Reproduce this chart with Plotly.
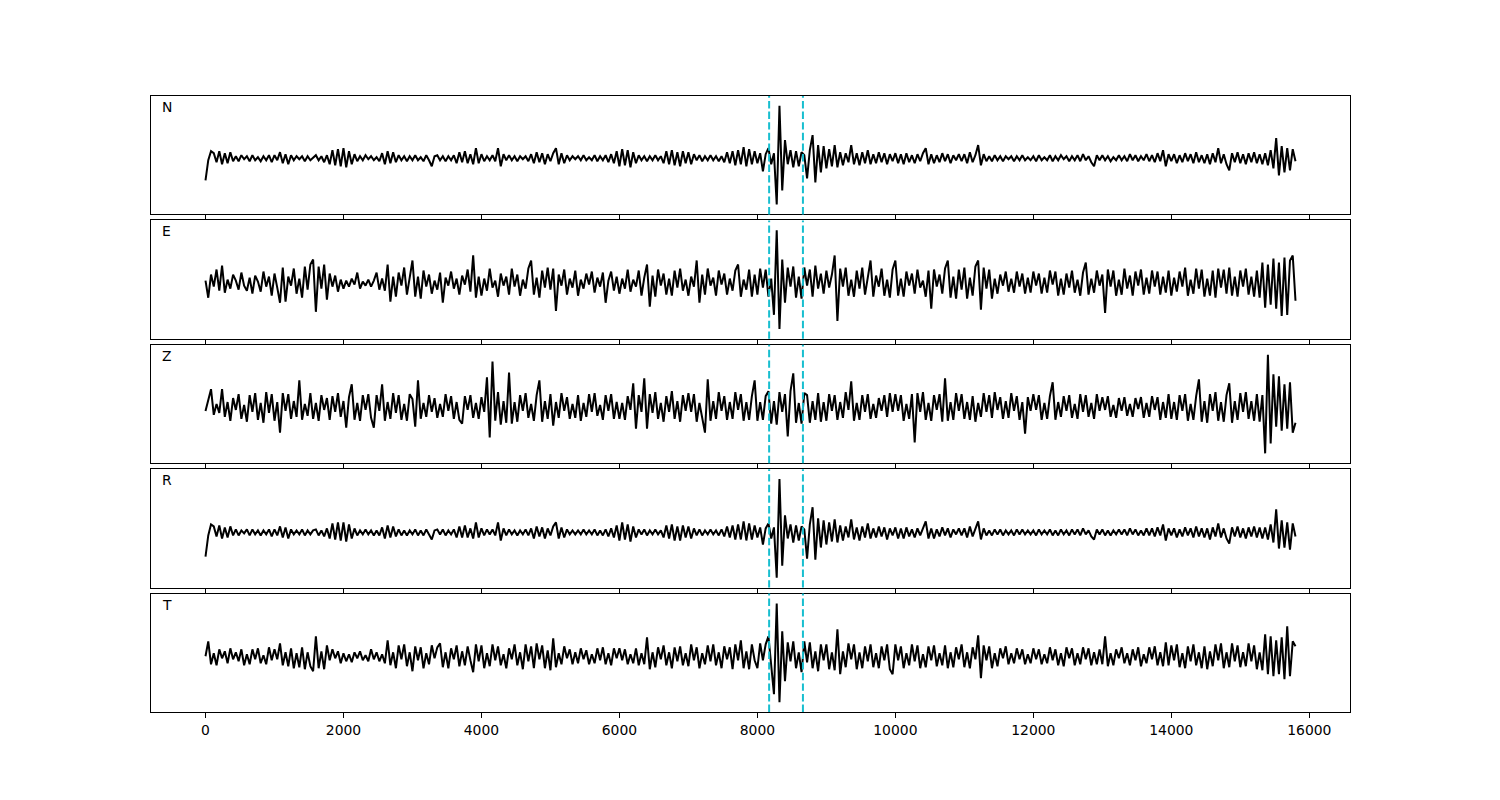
import numpy as np
import plotly.graph_objects as go
from plotly.subplots import make_subplots

# ---------------- data (amplitudes, one list per 1000-sample block, step 40) ----
channels = ["N", "E", "Z", "R", "T"]
pick_times = [8170, 8660]
x_ticks = [0, 2000, 4000, 6000, 8000, 10000, 12000, 14000, 16000]
sample_step = 40
block_len = 1000

wave_N = [
    [-22, -2, 7, 5, -4, 7, -6, 5, -5, 6, -3, 2, -3, 3, -1, 2, -3, 3, -2, 1, -3, 2, -2, 3, -4],
    [3, -2, 6, -5, 4, -6, 3, -2, 2, -1, 2, -3, 2, -2, 1, 3, -2, 2, -4, 3, -6, 8, -7, 9, -8],
    [10, -9, 7, -6, 4, -3, 2, -2, 3, -1, 2, -2, 1, -3, 5, -6, 7, -5, 6, -4, 3, -2, 2, -3, 2],
    [-2, 3, -2, 1, -3, 3, -2, -8, 2, 3, -2, 2, -3, 2, -2, 3, -5, 6, -4, 7, -5, 4, -6, 10, -5],
    [4, -3, 2, -2, 3, -3, 10, -8, 4, -2, 3, -2, 2, -3, 2, -1, 2, -3, 4, -5, 6, -4, 5, -6, 4],
    [-3, 5, 10, -6, 5, -5, 3, -2, 2, -1, 2, -2, 3, -2, 1, -2, 3, -3, 2, -2, 3, -4, 4, -5, 7],
    [-8, 9, -7, 8, -9, 6, -5, 3, -2, 2, -3, 2, -2, 3, -2, 2, -5, 7, -6, 8, -7, 6, -8, 7, -5],
    [6, -6, 4, -2, 3, -3, 2, -2, 3, -2, 2, -3, 2, -4, 6, -5, 7, -7, 8, -6, 11, -8, 9, -6, 7],
    [-5, 5, -13, 4, 10, -6, 5, -46, 52, -32, 18, -6, 8, -9, 7, -8, 6, 3, -20, 8, 23, -24, 13, -14, 12],
    [-10, 9, -8, 13, -9, 6, -7, 5, -4, 13, -6, 5, -7, 6, -5, 8, -6, 4, -5, 6, -4, 5, -6, 4, -3],
    [5, -5, 4, -6, 5, -4, 3, -5, 4, -3, 5, 10, -6, 4, -5, 3, -4, 5, -3, 4, -5, 3, -2, 4, -3],
    [4, -5, 6, -4, 3, 13, -7, 4, -3, 2, -3, 3, -2, 2, -3, 2, -1, 2, -3, 2, -2, 3, -2, 1, -2],
    [2, -3, 3, -2, 1, -2, 3, -3, 2, -2, 3, -1, 2, -3, 2, -2, 3, -3, 4, -2, 2, -4, -8, 3, -2],
    [3, -2, 2, -3, 1, -2, 3, -2, 2, -3, 4, -2, 3, -3, 2, -2, 4, -3, 3, -4, 5, -3, 8, -8, 4],
    [-3, 4, -5, 3, -4, 5, -3, 4, -5, 6, -4, 3, -5, 4, -6, 5, -4, 10, -5, 4, -6, -12, 5, -4, 6],
    [-5, 4, -6, 5, -4, 6, -5, 4, -6, 5, -7, 8, -10, 20, -17, 12, -14, 10, -12, 9, -3],
]

wave_E = [
    [2, -15, 8, -4, 13, -8, 17, -10, 3, -6, 8, 2, -7, 10, -3, -8, 5, -11, 7, 1, -9, 11, -4, 6, -13],
    [9, -5, -20, 15, -19, 6, -3, 14, -11, 4, -15, 16, -7, 18, 23, -29, 16, -6, 18, -17, 9, -4, 7, -9, 3],
    [-6, 2, -4, 4, -2, 10, -6, 1, -3, 3, -4, 2, 10, -7, 4, -8, 18, -19, 6, -14, 10, -3, 15, -12, 5],
    [22, -14, 6, -16, 12, -4, 8, -11, 2, -7, 10, -20, 5, -3, 11, -6, 4, -12, 7, -2, 13, -9, 27, -15, 6],
    [-13, 4, -8, 14, -5, 2, -14, 9, -3, 6, -12, 14, -4, 8, -13, 3, -6, 14, 22, -12, 5, -15, 12, -5, 15],
    [-7, 14, -28, 8, -3, 13, -12, 4, -5, 12, -13, 3, -6, 9, -2, 11, -10, 5, -4, 10, -20, 2, 11, -8, 6],
    [-11, 4, -6, 13, -9, 3, -4, 12, -13, 5, 18, -24, 7, -14, 13, -3, 9, -12, 4, -13, 12, -5, 14, -8, 3],
    [-13, 6, -4, 22, -20, 8, -12, 14, -3, 5, -13, 12, -2, 9, -12, 4, -8, 12, 18, -14, 3, -7, 13, -14, 8],
    [-12, 14, -5, 13, -14, 4, -32, 52, -46, 23, -20, 15, -4, 16, -15, 6, -16, 15, -3, 13, -14, 17, -6, 9, -11],
    [12, -5, 8, 27, -38, 14, -4, 15, -13, 3, -14, 12, -6, 15, -12, 5, 22, -14, 7, -4, 14, -13, 3, -15, 13],
    [22, -13, 4, -14, 11, -3, 9, -11, 13, -5, 2, -14, 12, -26, 13, -4, 8, -11, 14, 22, -15, 6, -16, 13, -7],
    [15, -16, 5, -13, 16, 22, -27, 15, -6, 13, -16, 4, -11, 8, -3, 11, -9, 4, -10, 11, -4, 9, -11, 5, -10],
    [11, -3, 9, -11, 5, -10, 12, -2, 11, -13, 4, -12, 9, -5, 12, -10, 3, -13, 10, 20, -12, 4, -10, 12, -3],
    [8, -30, 13, -4, 12, -13, 3, -12, 14, -6, 7, -13, 11, -3, 13, -12, 5, -11, 12, -4, 11, -12, 6, -10, 12],
    [-13, 5, -9, 11, -4, 15, -13, 3, -11, 14, -6, 13, -14, 4, -13, 12, -15, 14, -5, 13, -11, 15, -13, 6, -14],
    [12, -4, 14, -12, 6, -14, 12, -15, 20, -25, 18, -22, 24, -26, 20, -33, 25, -32, 22, 27, -18],
]

wave_Z = [
    [-4, 6, 18, -8, 3, -6, 18, -10, 5, -14, 9, -3, 13, -12, 2, -15, 12, -5, 14, -13, 4, -16, 15, -6, 13],
    [-14, 5, -26, 14, -4, 13, -12, 6, -10, 27, -13, 3, -9, 14, -12, 4, -14, 12, -3, 9, -13, 11, -5, 14, -10],
    [6, -21, 10, 23, -13, 4, -14, 12, -3, 13, -11, -21, 12, -4, 23, -14, 5, -12, 14, -6, 12, -13, 3, -14, 13],
    [8, -20, 27, -12, 4, -10, 12, -5, 9, -11, 3, -10, 13, -4, 11, -12, 5, -13, -17, 11, -3, 12, -11, 4, -12],
    [10, -5, 30, -31, 46, -14, 15, -18, 6, -16, 35, -17, 5, -15, 12, -4, 14, -11, 3, -14, 12, 27, -15, 6, -12],
    [13, -19, 5, -11, 14, -4, 10, -12, 3, -11, 12, -14, 4, -10, 13, -5, 14, -9, 2, -13, 12, -4, 13, -12, 5],
    [-12, 4, -13, 11, -3, 24, -22, 12, -5, 29, -22, 13, -6, 15, -12, 4, -15, 11, -5, 16, -12, 6, -15, 12, -4],
    [14, -5, 13, -15, 4, -13, -26, 28, -14, 6, -12, 15, -4, 11, -13, 5, -12, 15, -3, 13, -14, 5, -13, 11, 27],
    [-14, 5, -13, 11, 16, -17, 6, -18, 15, -5, 13, -30, 16, 34, -16, 4, -17, 14, 12, -16, 6, -13, 14, -15, 5],
    [-14, 13, -4, 12, -13, 5, -11, 15, -3, 26, -14, 4, -13, 12, -5, 13, -12, 3, -11, 9, -4, 12, -10, 14, -5],
    [13, -4, 12, -14, 3, -12, 13, -36, 14, -5, 15, -13, 4, -14, 12, -3, 13, -15, 29, -14, 5, -13, 14, -4, 13],
    [-12, 5, -13, 11, -15, 4, -10, 14, -5, 12, -11, 15, -3, 10, -12, 6, -11, 14, -4, 11, -13, 5, -27, 10, -4],
    [13, -3, 12, -13, 4, -12, 11, 25, -13, 5, -10, 11, -4, 12, -11, 3, -12, 13, -5, 12, -10, 4, -12, 13, -4],
    [10, -3, 11, -10, 2, -11, 9, -4, 10, -9, 3, -10, 9, -2, 10, -11, 4, -10, 11, -3, 10, -13, 5, -11, 13],
    [-12, 5, -13, 12, -4, 13, -14, 3, -13, 11, 28, -15, 6, -16, 13, -4, 15, -14, 5, -15, 12, 24, -16, 6, -13],
    [14, -5, 15, -12, 6, -14, 13, -15, 12, -47, 53, -37, 33, -20, 31, -24, 23, -22, 25, -26, -16],
]

wave_R = [
    [-24, -3, 8, 6, -4, 7, -6, 5, -5, 6, -3, 3, -3, 2, -1, 3, -3, 3, -2, 2, -3, 2, -2, 3, -4],
    [3, -3, 6, -5, 5, -6, 3, -2, 2, -2, 3, -3, 2, -2, 2, 3, -3, 2, -4, 4, -6, 9, -7, 10, -8],
    [10, -9, 8, -6, 4, -3, 2, -2, 3, -2, 2, -3, 2, -3, 5, -6, 7, -5, 6, -4, 3, -3, 2, -3, 2],
    [-2, 3, -3, 2, -3, 3, -2, -7, 2, 3, -2, 3, -3, 2, -2, 3, -5, 6, -5, 7, -5, 4, -6, 10, -5],
    [4, -3, 3, -2, 3, -3, 10, -8, 4, -3, 3, -2, 2, -3, 2, -2, 3, -3, 4, -6, 6, -4, 5, -6, 4],
    [-3, 6, 10, -6, 5, -5, 3, -2, 2, -2, 2, -2, 3, -2, 2, -2, 3, -3, 2, -3, 3, -4, 4, -5, 7],
    [-8, 10, -7, 8, -9, 6, -5, 3, -2, 3, -3, 2, -2, 3, -2, 2, -5, 7, -6, 8, -8, 6, -8, 7, -5],
    [6, -6, 4, -3, 3, -3, 2, -2, 3, -2, 2, -3, 3, -4, 6, -5, 7, -7, 8, -7, 11, -8, 9, -7, 7],
    [-5, 5, -12, 4, 9, -6, 5, -45, 53, -33, 17, -6, 8, -10, 7, -8, 6, 3, -26, 8, 25, -27, 14, -15, 12],
    [-12, 10, -9, 13, -10, 7, -8, 6, -5, 13, -7, 5, -8, 6, -5, 9, -6, 4, -5, 6, -4, 5, -7, 4, -3],
    [5, -6, 4, -6, 5, -4, 3, -5, 4, -3, 5, 11, -6, 4, -6, 3, -4, 5, -3, 4, -5, 3, -2, 4, -3],
    [4, -5, 6, -4, 3, 11, -7, 4, -3, 2, -3, 3, -2, 3, -3, 2, -2, 2, -3, 3, -2, 3, -2, 2, -2],
    [2, -3, 3, -2, 2, -2, 3, -3, 2, -3, 3, -2, 2, -3, 3, -2, 3, -3, 4, -2, 2, -4, -7, 3, -2],
    [3, -3, 2, -3, 2, -2, 3, -2, 3, -3, 4, -2, 3, -3, 2, -3, 4, -3, 4, -4, 5, -3, 8, -8, 4],
    [-3, 4, -5, 3, -4, 5, -3, 4, -5, 6, -4, 4, -5, 4, -7, 5, -4, 9, -5, 4, -6, -11, 5, -4, 6],
    [-5, 4, -6, 5, -4, 6, -5, 5, -6, 5, -7, 8, -10, 23, -16, 12, -15, 10, -17, 9, -4],
]

wave_T = [
    [0, 15, -8, 3, -9, 7, -2, 5, -7, 8, -3, 4, -5, 7, -9, 2, -8, 7, -3, 8, -7, 1, -8, 9, -4],
    [7, -3, 13, -9, 4, -10, 8, -12, 3, -11, 9, -13, 4, -10, -15, 20, -12, 5, -13, 11, -4, 7, -2, 5, -7],
    [3, -5, 2, -6, 4, -2, 5, -4, 1, -5, 7, -3, 4, -5, 2, -7, 16, -9, 4, -12, 11, -3, 12, -10, 4],
    [-15, 10, -4, 9, -12, 3, -8, 11, -2, 9, 13, -11, 4, -12, 8, -3, 11, -10, 5, -9, 10, -4, -16, 12, -5],
    [11, -12, 3, -10, 12, -4, 10, -9, 2, -12, 8, -3, 12, -9, 4, -13, 12, -5, 10, -12, 13, -3, 11, -12, 6],
    [-14, 18, -11, 3, -8, 10, -2, 7, -8, 4, -7, 8, -3, 6, -8, 2, -7, 8, -4, 9, -8, 3, -9, 8, -2],
    [8, -4, 7, -8, 2, -7, 8, -9, 3, -8, 19, -13, 4, -11, 9, -3, 11, -9, 4, -12, 9, -5, 10, -9, 3],
    [-10, 12, -4, 9, -12, 3, -8, 11, -5, 12, -9, 4, -12, 10, -3, 9, -13, 12, -4, 16, -12, 5, -13, 12, -4],
    [-12, 13, -4, 12, 20, -10, -38, 53, -46, 25, -25, 14, -5, 15, -12, 4, -16, 15, -6, 14, -12, 5, -15, 12, -4],
    [12, -13, 4, -14, 27, -18, 5, -11, 13, -3, 12, -13, 4, -12, 10, -5, 12, -11, 3, -12, 10, -4, 12, -13, -18],
    [12, -4, 10, -12, 3, -9, 12, -5, 11, -12, 2, -11, 10, -4, 11, -10, 3, -9, 11, -12, 4, -11, 9, -3, 12],
    [-11, 4, -12, 9, -3, 21, -22, 11, -4, 10, -12, 3, -10, 8, -2, 10, -8, 3, -7, 8, -3, 7, -8, 2, -7],
    [8, -3, 7, -8, 2, -7, 9, -4, 7, -9, 3, -10, 9, -2, 8, -9, 3, -8, 9, -3, 8, -9, 4, -8, 7],
    [-8, 20, -10, 3, -9, 7, -2, 9, -7, 3, -9, 7, -4, 9, -10, 2, -7, 9, -3, 10, -9, 4, -10, 14, -9],
    [11, -4, 12, -11, 3, -12, 10, -5, 12, -9, 4, -12, 10, -13, 5, -10, 12, -4, 13, -12, 4, -11, 13, -5, 11],
    [-11, 4, -10, 13, -5, 11, -13, 4, -14, 22, -18, 20, -20, 16, -18, 19, -23, 30, -20, 15, 10],
]

waves = {"N": wave_N, "E": wave_E, "Z": wave_Z, "R": wave_R, "T": wave_T}


def flatten(blocks):
    xs, ys = [], []
    for k, blk in enumerate(blocks):
        for j, v in enumerate(blk):
            xs.append(k * block_len + j * sample_step)
            ys.append(v)
    return np.array(xs), np.array(ys, dtype=float)


# ---------------- figure ----------------
# page has an 8px body margin, so the figure is sized/offset to land on the reference pixels
W, H = 1492, 792
m_l, m_r, m_t, m_b = 143, 150, 88, 88
plot_h = H - m_t - m_b
gap = 6

fig = make_subplots(rows=5, cols=1, shared_xaxes=True, vertical_spacing=gap / plot_h)

font = dict(family="DejaVu Sans", size=13.9, color="black")
pick_color = "#17becf"

x_max = 0
for i, ch in enumerate(channels, start=1):
    xs, ys = flatten(waves[ch])
    x_max = max(x_max, xs.max())
    fig.add_trace(
        go.Scatter(x=xs, y=ys, mode="lines", line=dict(color="black", width=2),
                   showlegend=False, hoverinfo="skip"),
        row=i, col=1,
    )
    lo, hi = ys.min(), ys.max()
    pad = 0.1 * (hi - lo)
    fig.update_yaxes(range=[lo - pad, hi + pad], row=i, col=1)
    yref = "y domain" if i == 1 else f"y{i} domain"
    xref = "x" if i == 1 else f"x{i}"
    for t in pick_times:
        fig.add_shape(type="line", xref=xref, yref=yref, x0=t, x1=t, y0=0, y1=1,
                      line=dict(color=pick_color, width=2, dash="7.4px,3.2px"), layer="above")
    fig.add_annotation(text=ch, xref=("x domain" if i == 1 else f"x{i} domain"), yref=yref,
                       x=0, y=1, xanchor="left", yanchor="top", xshift=9, yshift=-1,
                       showarrow=False, font=font)

span = x_max
fig.update_xaxes(range=[-0.05 * span, x_max + 0.05 * span],
                 tickvals=x_ticks, ticktext=[str(v) for v in x_ticks],
                 ticks="outside", ticklen=5, tickwidth=1, tickcolor="black",
                 showline=True, mirror=True, linecolor="black", linewidth=1,
                 showgrid=False, zeroline=False, tickfont=font)
fig.update_yaxes(showticklabels=False, ticks="", showline=True, mirror=True,
                 linecolor="black", linewidth=1, showgrid=False, zeroline=False)

fig.update_layout(width=W, height=H, margin=dict(l=m_l, r=m_r, t=m_t, b=m_b),
                  plot_bgcolor="white", paper_bgcolor="white", font=font,
                  showlegend=False)

fig.write_html("out.html")
